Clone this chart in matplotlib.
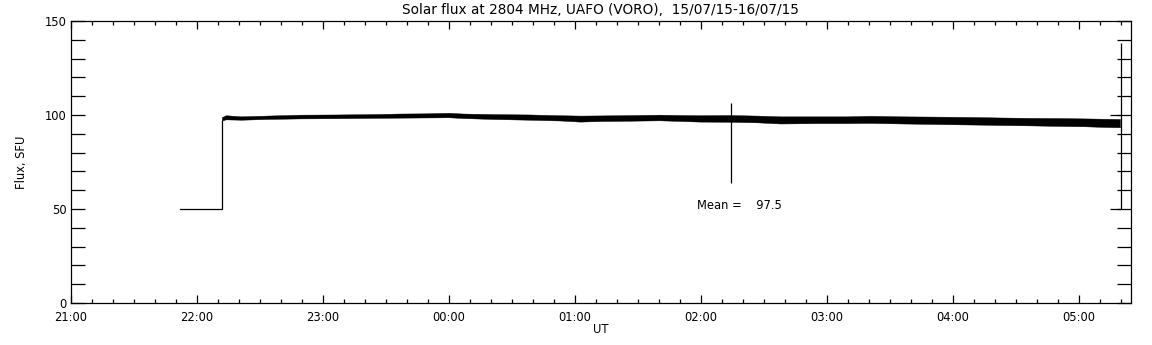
"""
Solar flux at 2804 MHz (UAFO, VORO) for the night 15/07/15-16/07/15,
redrawn in the old IDL style: thin black trace, inward ticks on all sides.
Produces out.png
"""

import numpy as np
import matplotlib.pyplot as plt
from matplotlib.ticker import MultipleLocator, FuncFormatter

# time axis is in hours after 21:00 UT
HOUR_TICKS = [0, 1, 2, 3, 4, 5, 6, 7, 8]
HOUR_LABELS = ["21:00", "22:00", "23:00", "00:00", "01:00",
               "02:00", "03:00", "04:00", "05:00"]

# calibration step before the sun is on the antenna
step_t = [0.865, 1.198, 1.198]
step_flux = [50, 50, 97.0]

# noisy flux band, read as centre and half width at each node
band_t = [1.198, 1.23, 1.35, 1.55, 1.82, 2.10, 2.40, 2.61, 2.80, 3.00,
          3.11, 3.35, 3.64, 3.88, 4.04, 4.20, 4.36, 4.67, 4.85, 4.99,
          5.23, 5.45, 5.63, 5.94, 6.15, 6.34, 6.60, 6.98, 7.20, 7.37,
          7.60, 7.85, 8.05, 8.23, 8.325]
band_mid = [98.0, 98.8, 98.4, 98.8, 99.2, 99.3, 99.5, 99.7, 99.8, 100.0,
            99.6, 99.2, 98.9, 98.5, 98.1, 98.3, 98.4, 98.7, 98.4, 98.2,
            98.2, 97.9, 97.4, 97.5, 97.5, 97.7, 97.4, 97.1, 96.9, 96.7,
            96.5, 96.3, 96.1, 95.8, 95.7]
band_half = [0.9, 1.1, 0.9, 0.9, 1.0, 1.0, 1.0, 1.1, 1.1, 1.2,
             1.2, 1.3, 1.4, 1.4, 1.6, 1.5, 1.5, 1.5, 1.6, 1.7,
             1.8, 1.8, 1.9, 1.8, 1.8, 1.9, 1.9, 2.0, 2.0, 2.0,
             2.0, 2.1, 2.1, 2.2, 2.2]

# single spike near 02:14
spike_t = 5.24
spike_lo, spike_hi = 64, 106.5

# end-of-record marks
end_t0, end_t1 = 8.25, 8.33
end_top = 138.5

MEAN_FLUX = 97.5


def hour_label(x, pos):
    h = int(round(x))
    if h in HOUR_TICKS:
        return HOUR_LABELS[h]
    return ""


def main():
    fig = plt.figure(figsize=(11.52, 3.45), dpi=100)
    ax = fig.add_axes([0.0616, 0.1217, 0.9202, 0.8173])

    lw = 0.9
    ax.plot(step_t, step_flux, color="black", linewidth=lw)

    t = np.array(band_t)
    mid = np.array(band_mid)
    half = np.array(band_half)
    ax.fill_between(t, mid - half, mid + half, color="black", linewidth=0.3,
                    edgecolor="black")

    ax.vlines(spike_t, spike_lo, spike_hi, color="black", linewidth=lw)

    ax.hlines([50, 100], end_t0, end_t1, color="black", linewidth=lw)
    ax.vlines(end_t1, 50, end_top, color="black", linewidth=lw)

    ax.text(4.97, 52, f"Mean = {MEAN_FLUX:7.1f}", fontsize=8.3, va="center",
            ha="left")

    ax.set_xlim(0, 8.413)
    ax.set_ylim(0, 150)
    ax.xaxis.set_major_locator(MultipleLocator(1))
    ax.xaxis.set_minor_locator(MultipleLocator(1 / 6))
    ax.xaxis.set_major_formatter(FuncFormatter(hour_label))
    ax.yaxis.set_major_locator(MultipleLocator(50))
    ax.yaxis.set_minor_locator(MultipleLocator(10))

    ax.tick_params(axis="both", which="both", direction="in", top=True,
                   right=True, labelsize=8.3, width=0.9, colors="black")
    ax.tick_params(axis="x", which="major", length=6, pad=6)
    ax.tick_params(axis="x", which="minor", length=3)
    ax.tick_params(axis="y", which="major", length=10, pad=3)
    ax.tick_params(axis="y", which="minor", length=10)
    for sp in ax.spines.values():
        sp.set_linewidth(0.9)

    ax.set_xlabel("UT", fontsize=8.3, labelpad=-1)
    ax.set_ylabel("Flux, SFU", fontsize=8.3, labelpad=12)
    ax.set_title("Solar flux at 2804 MHz, UAFO (VORO),  15/07/15-16/07/15",
                 fontsize=9.8, pad=5)

    fig.savefig("out.png", dpi=100)


if __name__ == "__main__":
    main()
